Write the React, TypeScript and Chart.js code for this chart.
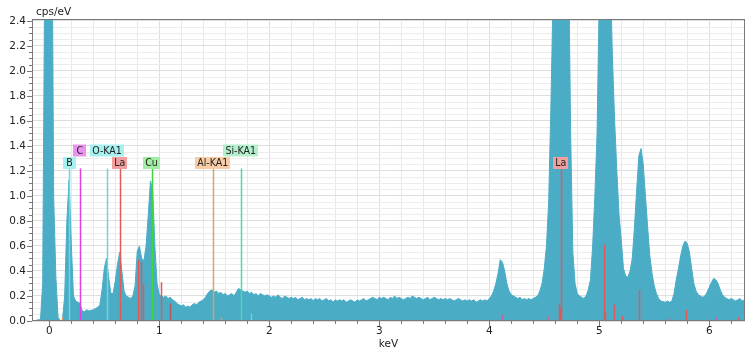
import React, { useEffect, useRef } from "react";
import { Chart, registerables } from "chart.js";

Chart.register(...registerables);

// ---- spectrum: detector channels (calibration offset + gain) and counts ----
const CHANNEL_START_KEV = -0.16;
const CHANNEL_WIDTH_KEV = 0.02;
const counts: number[] = [
  0, 0, 0.005, 0.01, 0.01, 0.3, 3.0, 6, 6, 4,
  1.0, 0.35, 0.03, 0.0, 0.01, 0.2, 0.8, 1.13, 0.62, 0.2,
  0.16, 0.15, 0.14, 0.08, 0.075, 0.09, 0.08, 0.085, 0.09, 0.1,
  0.11, 0.13, 0.25, 0.42, 0.5, 0.35, 0.22, 0.22, 0.32, 0.45,
  0.55, 0.4, 0.24, 0.2, 0.19, 0.18, 0.2, 0.28, 0.56, 0.6,
  0.5, 0.48, 0.6, 0.85, 1.12, 1.05, 0.6, 0.3, 0.21, 0.2,
  0.19, 0.2, 0.18, 0.19, 0.17, 0.16, 0.14, 0.13, 0.12, 0.13,
  0.11, 0.12, 0.11, 0.13, 0.14, 0.13, 0.15, 0.16, 0.17, 0.19,
  0.22, 0.24, 0.25, 0.23, 0.24, 0.22, 0.23, 0.21, 0.22, 0.2,
  0.21, 0.22, 0.2, 0.23, 0.26, 0.25, 0.24, 0.23, 0.24, 0.22,
  0.23, 0.21, 0.22, 0.2, 0.22, 0.21, 0.2, 0.21, 0.2, 0.19,
  0.2, 0.19, 0.21, 0.19, 0.18, 0.2, 0.19, 0.18, 0.19, 0.18,
  0.19, 0.17, 0.18, 0.19, 0.17, 0.18, 0.17, 0.18, 0.16, 0.18,
  0.17, 0.18, 0.16, 0.17, 0.18, 0.16, 0.17, 0.15, 0.17, 0.16,
  0.17, 0.16, 0.17, 0.15, 0.16, 0.17, 0.16, 0.15, 0.17, 0.16,
  0.17, 0.18, 0.16, 0.17, 0.18, 0.19, 0.18, 0.17, 0.19, 0.18,
  0.19, 0.18, 0.17, 0.19, 0.18, 0.2, 0.18, 0.19, 0.18, 0.17,
  0.18, 0.19, 0.18, 0.2, 0.19, 0.18, 0.19, 0.18, 0.17, 0.18,
  0.19, 0.17, 0.18, 0.19, 0.18, 0.17, 0.18, 0.17, 0.18, 0.17,
  0.18, 0.17, 0.16, 0.17, 0.18, 0.17, 0.16, 0.17, 0.16, 0.17,
  0.16, 0.17, 0.15, 0.16, 0.17, 0.16, 0.17, 0.16, 0.18, 0.2,
  0.24, 0.3, 0.38, 0.49, 0.47, 0.4, 0.3, 0.24, 0.21, 0.2,
  0.19, 0.18, 0.19, 0.17, 0.18, 0.17, 0.18, 0.17, 0.18, 0.19,
  0.2, 0.24, 0.3, 0.42, 0.6, 0.95, 1.7, 2.6, 3.6, 4.5,
  5, 5, 4.5, 3.9, 3.0, 1.5, 0.55, 0.3, 0.22, 0.2,
  0.19, 0.18, 0.2, 0.25, 0.33, 0.6, 1.0, 1.5, 2.6, 4.0,
  5, 5, 4, 2.8, 2.1, 1.6, 1.2, 0.85, 0.65, 0.42,
  0.36, 0.35, 0.4, 0.5, 0.75, 1.05, 1.32, 1.38, 1.25, 1.0,
  0.75, 0.52, 0.38, 0.28, 0.22, 0.18, 0.16, 0.155, 0.15, 0.16,
  0.15, 0.16, 0.22, 0.33, 0.42, 0.52, 0.6, 0.64, 0.62, 0.55,
  0.42, 0.3, 0.24, 0.21, 0.2, 0.19, 0.2, 0.23, 0.27, 0.31,
  0.34, 0.33, 0.3, 0.25, 0.21, 0.19, 0.18, 0.17, 0.18, 0.17,
  0.16, 0.17, 0.18, 0.16, 0.17, 0.17,
];

// ---- axes ----
const X_MIN = -0.157;
const X_MAX = 6.325;
const Y_MIN = 0;
const Y_MAX = 2.415;
const xTickLabels = [0, 1, 2, 3, 4, 5, 6];
const X_MINOR_STEP = 0.2;
const yTickLabels = [0.0, 0.2, 0.4, 0.6, 0.8, 1.0, 1.2, 1.4, 1.6, 1.8, 2.0, 2.2, 2.4];
const Y_MINOR_STEP = 0.05;
const xAxisTitle = "keV";
const yAxisTitle = "cps/eV";

// ---- element identification markers ----
const markerNames = ["B", "C", "O-KA1", "La", "Cu", "Al-KA1", "Si-KA1", "La"];
const markerEnergies = [0.183, 0.277, 0.525, 0.64, 0.93, 1.486, 1.74, 4.651];
const markerLineColors = ["#5fdede", "#e040e0", "#6fd6d6", "#e05a5a", "#3ed83e", "#d6a660", "#4fd6ae", "#e05a5a"];
const markerBoxColors = ["#a6f0f0", "#e894ee", "#a6f0f0", "#f29e9e", "#a2eea2", "#f8cca6", "#b4f0cc", "#f29e9e"];
const MARKER_TOP = 1.22;

// ---- secondary lines (short) ----
const lineEnergies = [0.12, 0.81, 0.834, 0.855, 1.02, 1.10, 1.56, 1.83, 4.12, 4.53, 4.63, 4.645, 5.04, 5.05, 5.13, 5.21, 5.36, 5.63, 5.79, 6.06, 6.26];
const lineHeights = [0.03, 0.49, 0.47, 0.30, 0.31, 0.14, 0.03, 0.06, 0.05, 0.04, 0.14, 0.10, 0.61, 0.07, 0.13, 0.04, 0.25, 0.03, 0.09, 0.03, 0.03];
const lineColors = ["#e0a060", "#e05858", "#e05858", "#d06060", "#e05858", "#b05a5a", "#d0a060", "#60d8d8", "#c060a0", "#c07090", "#e05858", "#e05858", "#e05858", "#e05858", "#e05858", "#e05858", "#e05858", "#c07090", "#e05858", "#c060a0", "#e05858"];

const SPECTRUM_COLOR = "#4bacc6";
const TICK_FONT = "10.5px 'DejaVu Sans', sans-serif";
const LABEL_FONT = "10.5px 'DejaVu Sans Condensed', 'DejaVu Sans', sans-serif";

function isMultiple(v: number, step: number) {
  const r = v / step;
  return Math.abs(r - Math.round(r)) < 1e-6;
}

const overlayPlugin = {
  id: "overlay",
  afterDatasetsDraw(chart: any) {
    const { ctx, chartArea: a } = chart;
    const xs = chart.scales.x;
    const ys = chart.scales.y;
    ctx.save();
    ctx.beginPath();
    ctx.rect(a.left, a.top, a.right - a.left, a.bottom - a.top);
    ctx.clip();
    // secondary short lines
    ctx.lineWidth = 1.5;
    lineEnergies.forEach((e, i) => {
      const px = Math.round(xs.getPixelForValue(e)) + 0.5;
      ctx.strokeStyle = lineColors[i];
      ctx.beginPath();
      ctx.moveTo(px, ys.getPixelForValue(0));
      ctx.lineTo(px, ys.getPixelForValue(lineHeights[i]));
      ctx.stroke();
    });
    // marker lines
    markerEnergies.forEach((e, i) => {
      const px = Math.round(xs.getPixelForValue(e)) + 0.5;
      ctx.strokeStyle = markerLineColors[i];
      ctx.beginPath();
      ctx.moveTo(px, ys.getPixelForValue(0));
      ctx.lineTo(px, ys.getPixelForValue(MARKER_TOP));
      ctx.stroke();
    });
    ctx.restore();

    // marker label boxes with greedy row placement
    ctx.save();
    ctx.font = LABEL_FONT;
    const boxH = 12;
    const order = markerNames.map((_, i) => i).sort((p, q) => markerNames[p].length - markerNames[q].length || p - q);
    const rows: Array<Array<[number, number]>> = [[], [], [], []];
    const topY = ys.getPixelForValue(MARKER_TOP);
    order.forEach((i) => {
      const tw = ctx.measureText(markerNames[i]).width;
      const w = Math.max(tw + 4, 13);
      const cx = xs.getPixelForValue(markerEnergies[i]);
      const l = cx - w / 2;
      const r = cx + w / 2;
      let row = 0;
      while (rows[row].some(([s, t]) => l < t + 1 && r > s - 1)) row++;
      rows[row].push([l, r]);
      const bottom = Math.round(topY + 1) - row * 12.5;
      ctx.fillStyle = markerBoxColors[i];
      ctx.fillRect(Math.round(l), bottom - boxH, Math.round(w), boxH);
      ctx.fillStyle = "#222";
      ctx.textAlign = "center";
      ctx.textBaseline = "middle";
      ctx.fillText(markerNames[i], cx, bottom - boxH / 2 + 0.5);
    });
    ctx.restore();

    // frame
    ctx.save();
    ctx.strokeStyle = "#7a7a7a";
    ctx.lineWidth = 1;
    ctx.strokeRect(Math.round(a.left) + 0.5, Math.round(a.top) + 0.5, Math.round(a.right - a.left) - 1, Math.round(a.bottom - a.top) - 1);
    // tick marks
    ctx.beginPath();
    for (let k = 0; k * Y_MINOR_STEP <= Y_MAX + 1e-9; k++) {
      const v = k * Y_MINOR_STEP;
      const py = Math.round(ys.getPixelForValue(v)) + 0.5;
      const len = isMultiple(v, 0.2) ? 5 : 3;
      ctx.moveTo(a.left - len, py);
      ctx.lineTo(a.left, py);
    }
    for (let k = 0; k * X_MINOR_STEP <= X_MAX + 1e-9; k++) {
      const v = k * X_MINOR_STEP;
      const px = Math.round(xs.getPixelForValue(v)) + 0.5;
      const len = isMultiple(v, 1) ? 5 : 3;
      ctx.moveTo(px, a.bottom);
      ctx.lineTo(px, a.bottom + len);
    }
    ctx.stroke();
    // axis titles
    ctx.fillStyle = "#222";
    ctx.font = TICK_FONT;
    ctx.textBaseline = "middle";
    ctx.textAlign = "left";
    ctx.fillText(yAxisTitle, a.left + 4, 12);
    ctx.textAlign = "center";
    ctx.fillText(xAxisTitle, (a.left + a.right) / 2, 344);
    ctx.restore();
  },
};

export default function App() {
  const ref = useRef<HTMLCanvasElement>(null);
  useEffect(() => {
    const canvas = ref.current;
    if (!canvas) return;
    const points = counts.map((c, i) => ({ x: CHANNEL_START_KEV + i * CHANNEL_WIDTH_KEV, y: c }));
    const chart = new Chart(canvas, {
      type: "line",
      data: {
        datasets: [
          {
            data: points,
            borderColor: SPECTRUM_COLOR,
            backgroundColor: SPECTRUM_COLOR,
            borderWidth: 1,
            pointRadius: 0,
            tension: 0,
            fill: "origin",
          },
        ],
      },
      options: {
        animation: false,
        responsive: false,
        devicePixelRatio: 1,
        layout: { padding: { left: 0, top: 19, right: 5, bottom: 0 } },
        plugins: { legend: { display: false }, tooltip: { enabled: false }, title: { display: false } },
        scales: {
          x: {
            type: "linear",
            min: X_MIN,
            max: X_MAX,
            border: { display: false },
            grid: {
              drawTicks: false,
              color: (c: any) => (c.tick && isMultiple(c.tick.value, 1) ? "#dedede" : "#e8e8e8"),
              lineWidth: 1,
            },
            afterBuildTicks: (scale: any) => {
              const t: any[] = [];
              for (let k = 0; k * X_MINOR_STEP <= X_MAX + 1e-9; k++) t.push({ value: +(k * X_MINOR_STEP).toFixed(2) });
              scale.ticks = t;
            },
            afterFit: (scale: any) => {
              scale.height = 33;
            },
            ticks: {
              autoSkip: false,
              maxRotation: 0,
              padding: 4,
              color: "#222",
              font: { family: "'DejaVu Sans', sans-serif", size: 10.5 },
              callback: (v: any) => (xTickLabels.some((t) => Math.abs(t - v) < 1e-6) ? String(Math.round(v)) : ""),
            },
          },
          y: {
            type: "linear",
            min: Y_MIN,
            max: Y_MAX,
            border: { display: false },
            grid: {
              drawTicks: false,
              color: (c: any) => (c.tick && isMultiple(c.tick.value, 0.2) ? "#dedede" : "#ececec"),
              lineWidth: 1,
            },
            afterBuildTicks: (scale: any) => {
              const t: any[] = [];
              for (let k = 0; k * Y_MINOR_STEP <= Y_MAX + 1e-9; k++) t.push({ value: +(k * Y_MINOR_STEP).toFixed(2) });
              scale.ticks = t;
            },
            afterFit: (scale: any) => {
              scale.width = 32;
            },
            ticks: {
              autoSkip: false,
              padding: 6,
              color: "#222",
              font: { family: "'DejaVu Sans', sans-serif", size: 10.5 },
              callback: (v: any) => {
                const hit = yTickLabels.find((t) => Math.abs(t - v) < 1e-6);
                return hit === undefined ? "" : hit.toFixed(1);
              },
            },
          },
        },
      },
      plugins: [overlayPlugin],
    });
    return () => chart.destroy();
  }, []);
  return (
    <div style={{ position: "absolute", left: 0, top: 0, width: 750, height: 354, background: "#fff" }}>
      <canvas ref={ref} width={750} height={354} style={{ display: "block", width: 750, height: 354 }} />
    </div>
  );
}
